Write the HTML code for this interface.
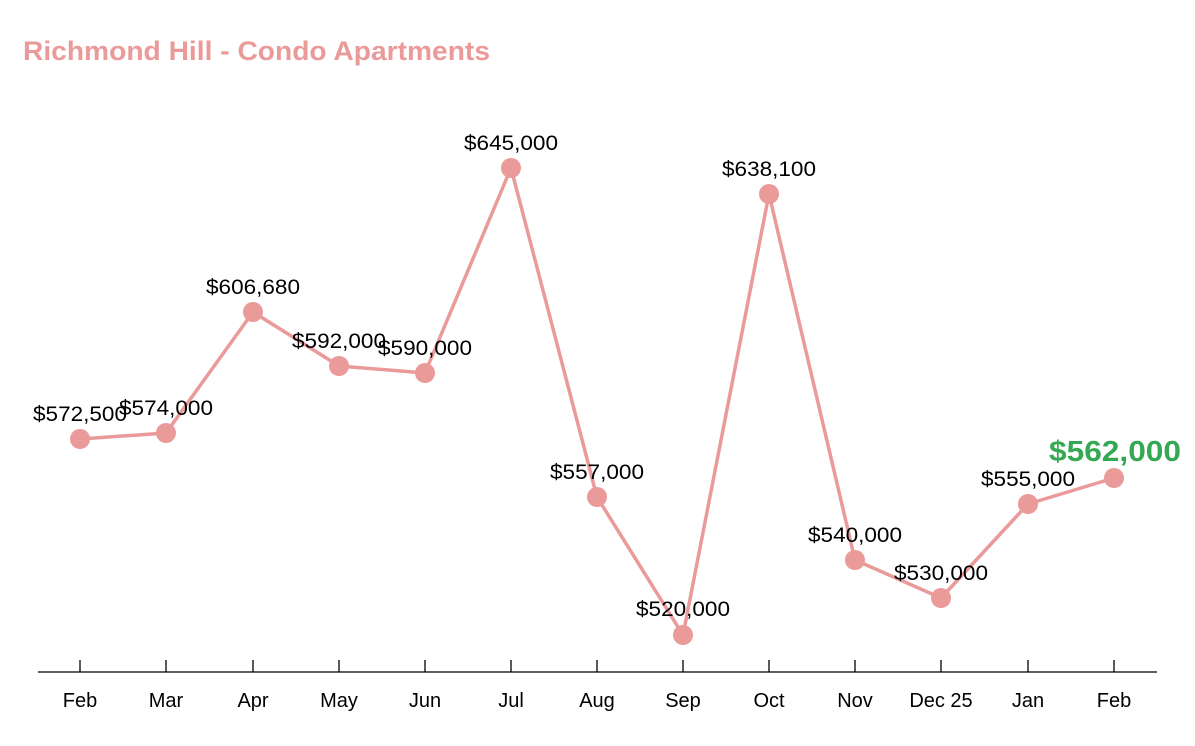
<!DOCTYPE html>
<html><head><meta charset="utf-8"><style>body{margin:0;background:#fff}svg{display:block}</style></head>
<body>
<svg width="1195" height="746" xmlns="http://www.w3.org/2000/svg" font-family="Liberation Sans, Arial, sans-serif">
<text x="23" y="60" font-size="27" font-weight="bold" fill="#e99a99" textLength="467" lengthAdjust="spacingAndGlyphs">Richmond Hill - Condo Apartments</text>
<line x1="38" y1="672" x2="1157" y2="672" stroke="#000" stroke-width="1.3"/>
<g stroke="#000" stroke-width="1.3">
<line x1="80" y1="660" x2="80" y2="672"/><line x1="166" y1="660" x2="166" y2="672"/><line x1="253" y1="660" x2="253" y2="672"/><line x1="339" y1="660" x2="339" y2="672"/><line x1="425" y1="660" x2="425" y2="672"/><line x1="511" y1="660" x2="511" y2="672"/><line x1="597" y1="660" x2="597" y2="672"/><line x1="683" y1="660" x2="683" y2="672"/><line x1="769" y1="660" x2="769" y2="672"/><line x1="855" y1="660" x2="855" y2="672"/><line x1="941" y1="660" x2="941" y2="672"/><line x1="1028" y1="660" x2="1028" y2="672"/><line x1="1114" y1="660" x2="1114" y2="672"/>
</g>
<g font-size="20" fill="#000" text-anchor="middle">
<text x="80" y="707">Feb</text><text x="166" y="707">Mar</text><text x="253" y="707">Apr</text><text x="339" y="707">May</text><text x="425" y="707">Jun</text><text x="511" y="707">Jul</text><text x="597" y="707">Aug</text><text x="683" y="707">Sep</text><text x="769" y="707">Oct</text><text x="855" y="707">Nov</text><text x="941" y="707">Dec 25</text><text x="1028" y="707">Jan</text><text x="1114" y="707">Feb</text>
</g>
<polyline fill="none" stroke="#e99a99" stroke-width="3.5" stroke-linejoin="round" points="80,439 166,433 253,312 339,366 425,373 511,168 597,497 683,635 769,194 855,560 941,598 1028,504 1114,478"/>
<g fill="#e99a99">
<circle cx="80" cy="439" r="10"/><circle cx="166" cy="433" r="10"/><circle cx="253" cy="312" r="10"/><circle cx="339" cy="366" r="10"/><circle cx="425" cy="373" r="10"/><circle cx="511" cy="168" r="10"/><circle cx="597" cy="497" r="10"/><circle cx="683" cy="635" r="10"/><circle cx="769" cy="194" r="10"/><circle cx="855" cy="560" r="10"/><circle cx="941" cy="598" r="10"/><circle cx="1028" cy="504" r="10"/><circle cx="1114" cy="478" r="10"/>
</g>
<g font-size="21" fill="#000" text-anchor="middle">
<text x="80" y="421" textLength="94" lengthAdjust="spacingAndGlyphs">$572,500</text><text x="166" y="415" textLength="94" lengthAdjust="spacingAndGlyphs">$574,000</text><text x="253" y="294" textLength="94" lengthAdjust="spacingAndGlyphs">$606,680</text><text x="339" y="348" textLength="94" lengthAdjust="spacingAndGlyphs">$592,000</text><text x="425" y="355" textLength="94" lengthAdjust="spacingAndGlyphs">$590,000</text><text x="511" y="150" textLength="94" lengthAdjust="spacingAndGlyphs">$645,000</text><text x="597" y="479" textLength="94" lengthAdjust="spacingAndGlyphs">$557,000</text><text x="683" y="616" textLength="94" lengthAdjust="spacingAndGlyphs">$520,000</text><text x="769" y="176" textLength="94" lengthAdjust="spacingAndGlyphs">$638,100</text><text x="855" y="542" textLength="94" lengthAdjust="spacingAndGlyphs">$540,000</text><text x="941" y="580" textLength="94" lengthAdjust="spacingAndGlyphs">$530,000</text><text x="1028" y="486" textLength="94" lengthAdjust="spacingAndGlyphs">$555,000</text>
</g>
<text x="1115" y="461" font-size="29" font-weight="bold" fill="#34a853" text-anchor="middle" textLength="132" lengthAdjust="spacingAndGlyphs">$562,000</text>
</svg>
</body></html>
